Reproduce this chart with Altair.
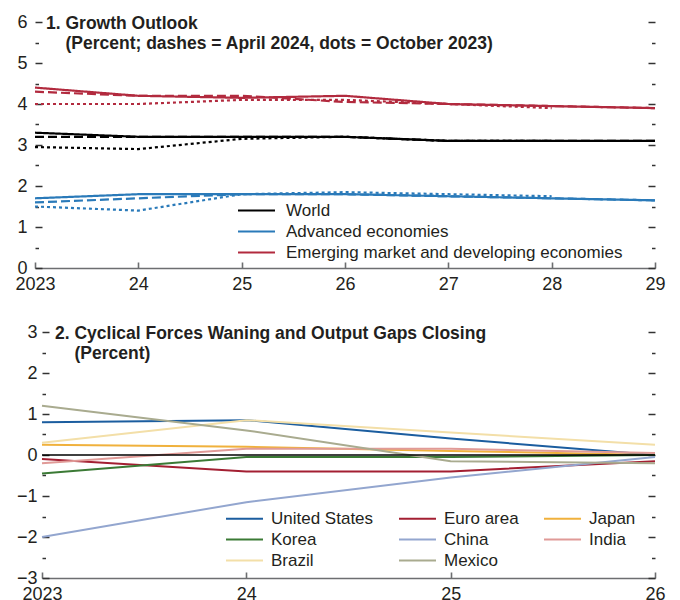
import altair as alt
import pandas as pd

FONT = "Liberation Sans"
INK = "#231f20"
INDENT = "\u200b" + "\u00a0" * 4  # keeps the second title line indented
LEGEND_LINE = "M-2,0H2"  # long horizontal stroke for legend keys

# ---------------- Panel 1: growth outlook ----------------
years = [2023, 2024, 2025, 2026, 2027, 2028, 2029]
year_labels = ["2023", "24", "25", "26", "27", "28", "29"]

groups = ["World", "Advanced economies", "Emerging market and developing economies"]
group_colors = ["#000000", "#2a7ab9", "#b22a3e"]

vintages = ["Latest", "April 2024", "October 2023"]
vintage_dash = [[1, 0], [9, 4], [3, 3]]

world_latest = [3.3, 3.2, 3.2, 3.2, 3.1, 3.1, 3.1]
world_apr24 = [3.2, 3.2, 3.2, 3.2, 3.1, 3.1, 3.1]
world_oct23 = [2.95, 2.9, 3.15, 3.2, 3.1, 3.1]

ae_latest = [1.7, 1.8, 1.8, 1.8, 1.75, 1.7, 1.65]
ae_apr24 = [1.6, 1.7, 1.8, 1.8, 1.75, 1.7, 1.65]
ae_oct23 = [1.5, 1.4, 1.8, 1.85, 1.8, 1.75]

emde_latest = [4.4, 4.2, 4.15, 4.2, 4.0, 3.95, 3.9]
emde_apr24 = [4.3, 4.2, 4.2, 4.05, 4.0, 3.95, 3.9]
emde_oct23 = [4.0, 4.0, 4.1, 4.1, 4.0, 3.9]

# ---------------- Panel 2: output gaps ----------------
gap_years = [2023, 2024, 2025, 2026]
gap_year_labels = ["2023", "24", "25", "26"]

economies = ["United States", "Euro area", "Japan", "Korea", "China", "India", "Brazil", "Mexico"]
economy_colors = ["#1b5d9f", "#a31f32", "#f0b13c", "#3b7a35", "#93a6cf", "#e09a97", "#f3dfa8", "#a9ab8f"]

gap_us = [0.8, 0.85, 0.4, 0.0]
gap_euro = [-0.1, -0.4, -0.4, -0.15]
gap_japan = [0.25, 0.2, 0.1, 0.0]
gap_korea = [-0.45, -0.05, -0.05, 0.0]
gap_china = [-2.0, -1.15, -0.55, -0.05]
gap_india = [-0.2, 0.15, 0.15, 0.05]
gap_brazil = [0.3, 0.85, 0.55, 0.25]
gap_mexico = [1.2, 0.6, -0.15, -0.2]

# ---------------- tables ----------------
growth_series = [
    ("World", "Latest", world_latest), ("World", "April 2024", world_apr24), ("World", "October 2023", world_oct23),
    ("Advanced economies", "Latest", ae_latest), ("Advanced economies", "April 2024", ae_apr24),
    ("Advanced economies", "October 2023", ae_oct23),
    ("Emerging market and developing economies", "Latest", emde_latest),
    ("Emerging market and developing economies", "April 2024", emde_apr24),
    ("Emerging market and developing economies", "October 2023", emde_oct23),
]
growth = pd.DataFrame(
    [dict(year=y, value=v, group=g, vintage=vin)
     for g, vin, vals in growth_series for y, v in zip(years, vals)]
)

gap_series = dict(zip(economies, [gap_us, gap_euro, gap_japan, gap_korea, gap_china,
                                  gap_india, gap_brazil, gap_mexico]))
gaps = pd.DataFrame(
    [dict(year=y, value=v, economy=e) for e, vals in gap_series.items() for y, v in zip(gap_years, vals)]
)
zero = pd.DataFrame({"value": [0]})


def label_expr(vals, labels):
    arr = "[" + ",".join("'" + s + "'" for s in labels) + "]"
    return f"{arr}[datum.value - {vals[0]}]"


def tick_size():
    return {"condition": {"test": "datum.value % 1 !== 0", "value": 3.5}, "value": 7}


def axes(xvals, xlabels, ymin, ymax, W, H, x0, label_pad):
    """Axes for one panel; the plot runs from x0 to W inside its group."""
    ymajor = list(range(ymin, ymax + 1))
    yall = [v / 2 for v in range(2 * ymin, 2 * ymax + 1)]
    common = dict(title=None, grid=False)
    x_lab = alt.Axis(orient="bottom", values=xvals, labelExpr=label_expr(xvals, xlabels),
                     domain=False, ticks=False, labelPadding=7, labelFontSize=18,
                     labelFont=FONT, labelColor=INK, labelFlush=False, **common)
    x_tck = alt.Axis(orient="top", offset=-H, values=xvals, labels=False, domain=True,
                     domainColor="#6d6e71", domainWidth=1.6, ticks=True, tickSize=6,
                     tickColor="#6d6e71", tickWidth=1.6, **common)
    y_lab = alt.Axis(orient="left", values=ymajor, format="d", domain=False, ticks=False,
                     labelPadding=label_pad, labelFontSize=18, labelFont=FONT,
                     labelColor=INK, **common)
    y_tck_l = alt.Axis(orient="right", offset=-(W - x0), values=yall, labels=False, domain=False,
                       tickColor="#333333", tickWidth=1.5, tickSize=tick_size(), **common)
    y_tck_r = alt.Axis(orient="left", offset=-W, values=yall, labels=False, domain=False,
                       tickColor="#333333", tickWidth=1.5, tickSize=tick_size(), **common)
    return x_lab, x_tck, y_lab, y_tck_l, y_tck_r


def title(lines, dx):
    return alt.TitleParams(text=lines, anchor="start", frame="group", orient="top",
                           offset=-39, dx=dx, fontSize=17.5, fontWeight="bold",
                           font=FONT, color=INK, lineHeight=20)


def legend(x, y, offset, **extra):
    return alt.Legend(orient="none", legendX=x, legendY=y, title=None,
                      symbolType=LEGEND_LINE, symbolSize=342, symbolStrokeWidth=2.2,
                      labelFontSize=17, labelFont=FONT, labelColor=INK,
                      labelOffset=offset, padding=0, labelLimit=0, **extra)


# ---------------- Panel 1 chart ----------------
W1, H1, X01 = 613, 246, -7
x1 = alt.Scale(domain=[years[0], years[-1]], range=[X01, W1], nice=False, zero=False)
y1 = alt.Scale(domain=[0, 6], nice=False, zero=False)
xl, xt, yl, ytl, ytr = axes(years, year_labels, 0, 6, W1, H1, X01, 15)

lines1 = alt.Chart(growth).mark_line(strokeWidth=2.2).encode(
    x=alt.X("year:Q", scale=x1, axis=xl),
    y=alt.Y("value:Q", scale=y1, axis=yl),
    color=alt.Color("group:N", scale=alt.Scale(domain=groups, range=group_colors),
                    legend=legend(204, 178, 19, rowPadding=2)),
    strokeDash=alt.StrokeDash("vintage:N", scale=alt.Scale(domain=vintages, range=vintage_dash),
                              legend=None),
    detail="vintage:N",
)
guide1a = alt.Chart(growth).mark_point(opacity=0).encode(
    x=alt.X("year:Q", scale=x1, axis=xt), y=alt.Y("value:Q", scale=y1, axis=ytl))
guide1b = alt.Chart(growth).mark_point(opacity=0).encode(
    x=alt.X("year:Q", scale=x1, axis=None), y=alt.Y("value:Q", scale=y1, axis=ytr))

panel1 = alt.layer(lines1, guide1a, guide1b).resolve_axis(
    x="independent", y="independent"
).properties(
    width=W1, height=H1,
    title=title(["1. Growth Outlook",
                 INDENT + "(Percent; dashes = April 2024, dots = October 2023)"], 4),
)

# ---------------- Panel 2 chart ----------------
W2, H2, X02 = 613, 246, 0
x2 = alt.Scale(domain=[gap_years[0], gap_years[-1]], range=[X02, W2], nice=False, zero=False)
y2 = alt.Scale(domain=[-3, 3], nice=False, zero=False)
xl2, xt2, yl2, ytl2, ytr2 = axes(gap_years, gap_year_labels, -3, 3, W2, H2, X02, 5)

lines2 = alt.Chart(gaps).mark_line(strokeWidth=2).encode(
    x=alt.X("year:Q", scale=x2, axis=xl2),
    y=alt.Y("value:Q", scale=y2, axis=yl2),
    color=alt.Color("economy:N", scale=alt.Scale(domain=economies, range=economy_colors),
                    sort=economies,
                    legend=legend(192, 176, 16, columns=3, columnPadding=20,
                                  direction="horizontal", rowPadding=2)),
)
zero_line = alt.Chart(zero).mark_rule(color="#000000", strokeWidth=1.5).encode(
    y=alt.Y("value:Q", scale=y2, axis=None))
guide2a = alt.Chart(gaps).mark_point(opacity=0).encode(
    x=alt.X("year:Q", scale=x2, axis=xt2), y=alt.Y("value:Q", scale=y2, axis=ytl2))
guide2b = alt.Chart(gaps).mark_point(opacity=0).encode(
    x=alt.X("year:Q", scale=x2, axis=None), y=alt.Y("value:Q", scale=y2, axis=ytr2))

panel2 = alt.layer(lines2, zero_line, guide2a, guide2b).resolve_axis(
    x="independent", y="independent"
).properties(
    width=W2, height=H2,
    title=title(["2. Cyclical Forces Waning and Output Gaps Closing",
                 INDENT + "(Percent)"], 13),
)

chart = alt.concat(panel1, panel2, columns=1, spacing=30).resolve_scale(
    color="independent", strokeDash="independent"
).resolve_legend(
    color="independent"
).properties(
    padding={"left": 14, "top": 13, "right": 10, "bottom": 5},
    background="white",
).configure_view(stroke=None)

chart.save("out.html", embed_options={"renderer": "svg", "actions": False})
